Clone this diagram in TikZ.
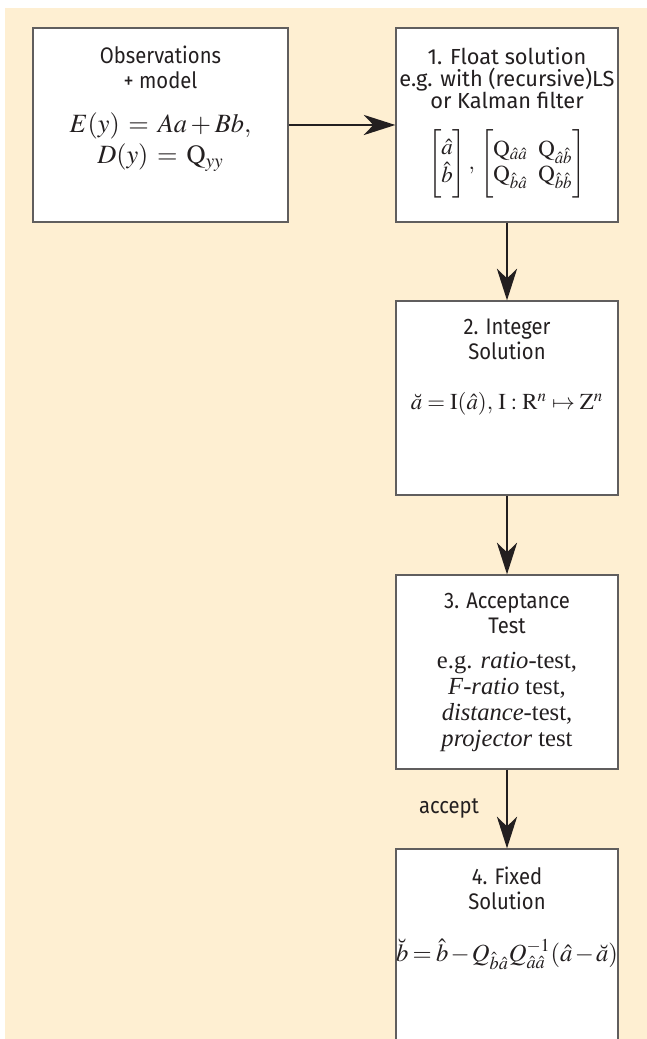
\documentclass[tikz,border=0pt]{standalone}
\usepackage{amsmath}
\usepackage{mathptmx}
\usepackage{fontspec}
\setmainfont{Liberation Serif}
\setsansfont{Fira Sans}[FakeStretch=0.9]
\newfontfamily\widesans{Fira Sans}
\usetikzlibrary{arrows.meta}

\definecolor{panelcream}{RGB}{254,239,210}
\definecolor{boxgray}{RGB}{96,94,94}
\definecolor{inkblack}{RGB}{35,31,32}

\newcommand{\headfont}{\sffamily\fontsize{12.8}{14.2}\selectfont}
\newcommand{\floatfont}{\widesans\fontsize{12.4}{12.6}\selectfont}
\newcommand{\formfont}{\rmfamily\fontsize{13}{15.6}\selectfont}
\newcommand{\testfont}{\rmfamily\fontsize{14}{14.8}\selectfont}
% #1 width, #2 space above first line, #3 contents
\newcommand{\stagetext}[3]{\begin{minipage}[t][3.88cm][t]{#1}\centering\vspace*{#2}#3\end{minipage}}
% tall strut for the bracketed vectors
\newcommand{\bracketstrut}{\rule[-17.5pt]{0pt}{41pt}}

\tikzset{
  stagebox/.style={draw=boxgray, fill=white, line width=0.75pt, inner sep=0pt, text=inkblack},
  flowarrow/.style={draw=inkblack, line width=1.1pt, -{Stealth[length=18pt, width=11.5pt, inset=5.5pt]}},
  flowtag/.style={font=\headfont, text=inkblack, inner sep=0pt},
}

\begin{document}
\begin{tikzpicture}
  \clip (0,0) rectangle (12.94,20.78);%

  % Panel behind the chart
  \fill[white] (0,0) rectangle (12.94,20.78);%
  \fill[panelcream] (0.10,0) rectangle (12.94,20.62);%

  % Drawing box obsmodel
  \node[stagebox] (obsmodel) at (3.21,18.28) {\stagetext{5.10cm}{10.5pt}{%
    \headfont Observations\\ + model\par
    \vspace{7pt}\fontsize{15}{17.6}\selectfont
    $E(y) \,=\, Aa + Bb,$\\ $D(y) \,=\, \mathrm{Q}_{yy}$\par}};%

  % Drawing box floatsol
  \node[stagebox] (floatsol) at (10.14,18.28) {\stagetext{4.44cm}{11pt}{%
    \floatfont 1. Float solution\\ e.g. with (recursive)LS\\ or Kalman filter\par
    \vspace{10pt}\formfont\setlength{\arraycolsep}{3pt}\renewcommand{\arraystretch}{0.9}
    $\left[\bracketstrut\begin{matrix}\hat{a}\\ \hat{b}\end{matrix}\right],\,
     \left[\bracketstrut\begin{matrix}\mathrm{Q}_{\hat{a}\hat{a}} & \mathrm{Q}_{\hat{a}\hat{b}}\\
     \mathrm{Q}_{\hat{b}\hat{a}} & \mathrm{Q}_{\hat{b}\hat{b}}\end{matrix}\right]$\par}};%

  % Drawing box intsol
  \node[stagebox] (intsol) at (10.14,12.82) {\stagetext{4.44cm}{10.5pt}{%
    \headfont 2. Integer\\ Solution\par
    \vspace{12.8pt}\formfont
    $\breve{a} = \mathrm{I}(\hat{a}),\, \mathrm{I} : \mathrm{R}^{n} \mapsto \mathrm{Z}^{n}$\par}};%

  % Drawing box acctest
  \node[stagebox] (acctest) at (10.14,7.34) {\stagetext{4.44cm}{10.5pt}{%
    \headfont 3. Acceptance\\ Test\par
    \vspace{5pt}\testfont
    e.g. \textit{ratio}-test,\\ \textit{F-ratio} test,\\ \textit{distance}-test,\\ \textit{projector} test\par}};%

  % Drawing box fixsol
  \node[stagebox] (fixsol) at (10.14,1.86) {\stagetext{4.44cm}{10pt}{%
    \headfont 4. Fixed\\ Solution\par
    \vspace{14pt}\fontsize{14}{15.6}\selectfont
    $\breve{b} = \hat{b} - Q_{\hat{b}\hat{a}} Q^{-1}_{\hat{a}\hat{a}}(\hat{a} - \breve{a})$\par}};%

  % Drawing arrows between the stages
  \draw[flowarrow] (obsmodel) -- (floatsol);%
  \draw[flowarrow] (floatsol) -- (intsol);%
  \draw[flowarrow] (intsol) -- (acctest);%
  \draw[flowarrow] (acctest) -- node[flowtag, midway, left=0.54cm] (acctag) {accept} (fixsol);%
\end{tikzpicture}
\end{document}
